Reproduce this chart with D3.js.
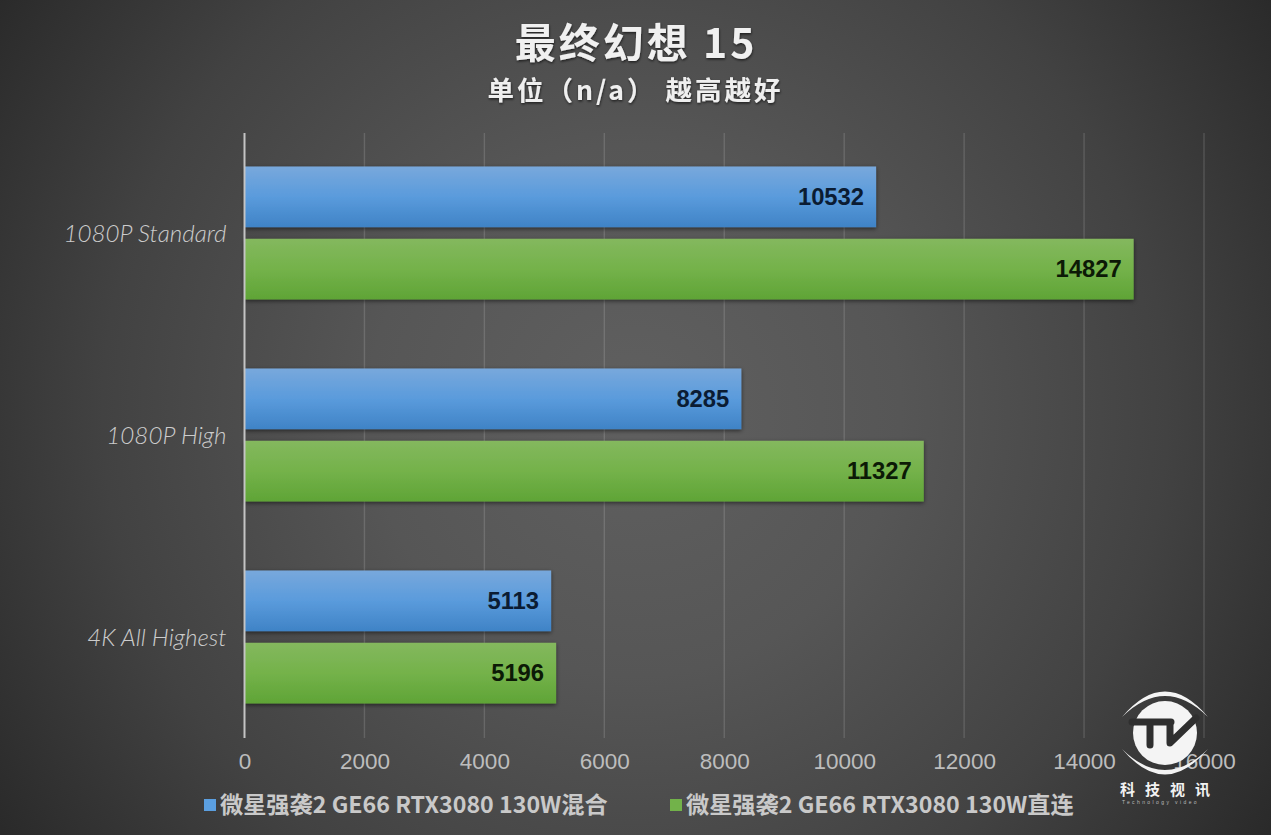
<!DOCTYPE html>
<html><head><meta charset="utf-8">
<script src="https://cdn.jsdelivr.net/npm/d3@7/dist/d3.min.js"></script>
<style>html,body{margin:0;padding:0;background:#333;overflow:hidden}svg{display:block}</style>
</head><body><svg id="c" width="1271" height="835"></svg>
<script>
const categories = ["1080P Standard","1080P High","4K All Highest"];
const seriesNames = ["微星强袭2 GE66 RTX3080 130W混合","微星强袭2 GE66 RTX3080 130W直连"];
const hybridValues = [10532,8285,5113];
const directValues = [14827,11327,5196];
const tickValues = [0,2000,4000,6000,8000,10000,12000,14000,16000];
const titleText = "最终幻想 15";
const subtitleText = "单位（n/a） 越高越好";

const cjk = "'Noto Sans CJK SC','Noto Sans',sans-serif";
const latin = "'Liberation Sans',Arial,sans-serif";
const svg = d3.select("#c");
const defs = svg.append("defs");

const bg = defs.append("radialGradient").attr("id","bg").attr("gradientUnits","userSpaceOnUse")
  .attr("cx",635).attr("cy",410).attr("r",760);
[[0,"#606060"],[0.35,"#565656"],[0.7,"#424242"],[1,"#2a2a2a"]].forEach(s=>bg.append("stop").attr("offset",s[0]).attr("stop-color",s[1]));
function barGrad(id,stops){
  const g=defs.append("linearGradient").attr("id",id).attr("x1",0).attr("y1",0).attr("x2",0).attr("y2",1);
  stops.forEach(s=>g.append("stop").attr("offset",s[0]).attr("stop-color",s[1]));
}
barGrad("gBlue",[[0,"#78a8dc"],[0.5,"#5a9bdc"],[1,"#3f83c6"]]);
barGrad("gGreen",[[0,"#84b85e"],[0.5,"#74b24a"],[1,"#5fa436"]]);
const sw1=defs.append("filter").attr("id","shadow").attr("x","-5%").attr("y","-20%").attr("width","110%").attr("height","140%");
sw1.append("feDropShadow").attr("dx",0).attr("dy",1.5).attr("stdDeviation",2).attr("flood-color","#000").attr("flood-opacity",0.55);
const ts=defs.append("filter").attr("id","tshadow").attr("x","-5%").attr("y","-20%").attr("width","110%").attr("height","140%");
ts.append("feDropShadow").attr("dx",0.5).attr("dy",1.5).attr("stdDeviation",1.2).attr("flood-color","#000").attr("flood-opacity",0.6);

svg.append("rect").attr("width",1271).attr("height",835).attr("fill","url(#bg)");

const x = d3.scaleLinear().domain([0,16000]).range([244.5,1204]);
const y = d3.scaleBand().domain(categories).range([132,738]).paddingInner(0).paddingOuter(0);
const inner = d3.scaleBand().domain([0,1]).range([34.5,167.5]).paddingInner(0.16).paddingOuter(0);

// grid lines
svg.append("g").selectAll("line").data(tickValues.slice(1)).join("line")
  .attr("x1",d=>x(d)).attr("x2",d=>x(d)).attr("y1",133).attr("y2",738)
  .attr("stroke","#ffffff").attr("stroke-opacity",0.14).attr("stroke-width",1.4);

// x axis labels via d3 axis
const xAxis = svg.append("g").attr("transform","translate(0,738)")
  .call(d3.axisBottom(x).tickValues(tickValues).tickFormat(d3.format("d")).tickSize(0).tickPadding(15));
xAxis.select(".domain").remove();
xAxis.selectAll("text").attr("font-family",latin).attr("font-size",22.5).attr("fill","#bdbdbd");

// bars
const seriesData = [hybridValues,directValues];
const fills = ["url(#gBlue)","url(#gGreen)"];
seriesData.forEach((vals,si)=>{
  const g=svg.append("g");
  g.selectAll("rect").data(vals).join("rect")
    .attr("x",x(0)).attr("y",(d,i)=>y(categories[i])+inner(si))
    .attr("width",d=>x(d)-x(0)).attr("height",inner.bandwidth())
    .attr("fill",fills[si]).attr("filter","url(#shadow)");
  g.selectAll("text").data(vals).join("text")
    .attr("x",d=>x(d)-12).attr("y",(d,i)=>y(categories[i])+inner(si)+inner.bandwidth()/2)
    .attr("dy","0.35em").attr("text-anchor","end")
    .attr("font-family",latin).attr("font-weight","bold").attr("font-size",23.8)
    .attr("fill",si===0?"#0b1c33":"#0c1a06").text(d=>d);
});

// y axis
const yAxis = svg.append("g").attr("transform","translate(244.5,1)")
  .call(d3.axisLeft(y).tickSize(0).tickPadding(18));
yAxis.select(".domain").attr("stroke","#c4c4c4").attr("stroke-width",2).attr("d","M0,132V737");
yAxis.selectAll("text").attr("font-family","Lato,'Open Sans',sans-serif").attr("font-style","italic")
  .attr("font-weight",300).attr("font-size",24.2).attr("fill","#cccccc");

// titles
svg.append("text").attr("x",636).attr("y",58).attr("text-anchor","middle")
  .attr("font-family",cjk).attr("font-weight","bold").attr("font-size",41).attr("letter-spacing",3)
  .attr("fill","#f0f0f0").attr("filter","url(#tshadow)").text(titleText);
svg.append("text").attr("x",635.5).attr("y",100).attr("text-anchor","middle")
  .attr("font-family",cjk).attr("font-weight","bold").attr("font-size",26.5).attr("letter-spacing",3)
  .attr("fill","#efefef").attr("filter","url(#tshadow)").text(subtitleText);

// legend
const legendX=[204,670], legendColors=["#5b9fe0","#72b24a"];
seriesNames.forEach((n,i)=>{
  svg.append("rect").attr("x",legendX[i]).attr("y",799).attr("width",12).attr("height",12).attr("fill",legendColors[i]);
  svg.append("text").attr("x",legendX[i]+16).attr("y",813)
    .attr("font-family",cjk).attr("font-weight","bold").attr("font-size",23.2)
    .attr("fill","#c9c9c9").text(n);
});

// logo watermark
const logo=svg.append("g").attr("transform","translate(1165,733)");
logo.append("circle").attr("r",32).attr("fill","#f4f4f4");
logo.append("path").attr("d","M-43,-16 Q0,-67 43,-16 Q0,-58 -43,-16Z").attr("fill","#f4f4f4");
logo.append("path").attr("d","M-43,16 Q0,67 43,16 Q0,58 -43,16Z").attr("fill","#f4f4f4");
logo.append("path").attr("d","M-33,-11 H6 M-15,-11 V12 M5,-11 V10 L31,-15").attr("fill","none").attr("stroke","#2f2f2f").attr("stroke-width",7).attr("stroke-linecap","round").attr("stroke-linejoin","round");
svg.append("text").attr("x",1120).attr("y",795).attr("font-family",cjk).attr("font-weight","bold").attr("font-size",15).attr("letter-spacing",10).attr("fill","#f2f2f2").text("科技视讯");
svg.append("text").attr("x",1122).attr("y",803.5).attr("font-family",latin).attr("font-size",5).attr("letter-spacing",2.4).attr("fill","#bbbbbb").text("Technology video");
</script></body></html>
